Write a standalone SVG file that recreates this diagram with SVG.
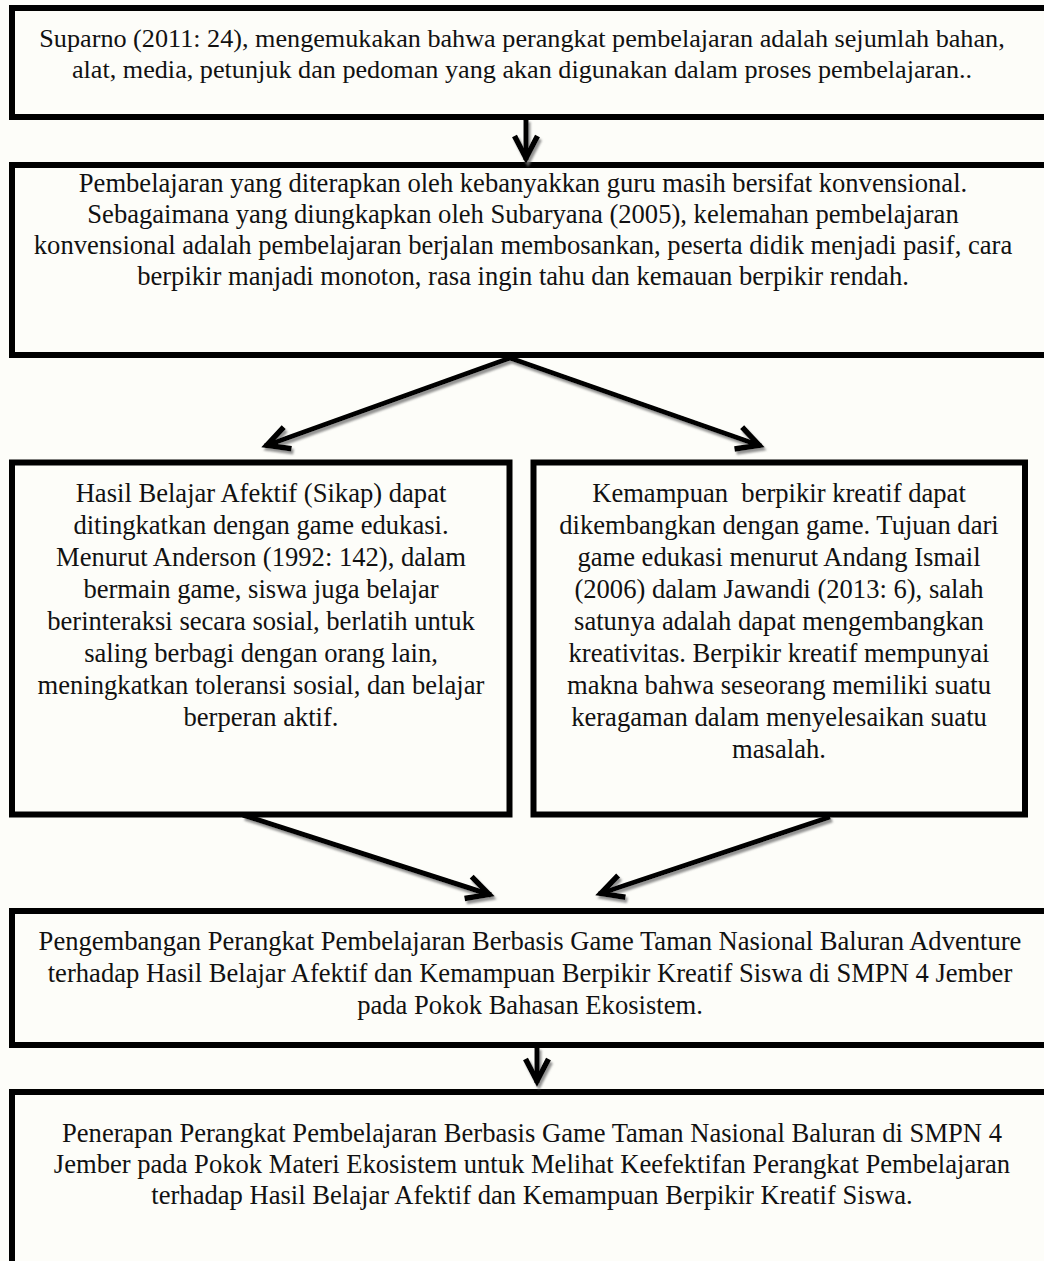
<svg xmlns="http://www.w3.org/2000/svg" width="1044" height="1261" viewBox="0 0 1044 1261">
  <style>
    .box { fill: #fdfdf9; stroke: #000; stroke-width: 6; }
    .t { font-family: "Liberation Serif", "Times New Roman", serif; font-size: 26.6px; fill: #111; text-anchor: middle; white-space: pre; }
    .t1 { font-size: 26.2px; }
    .con { stroke: #000; stroke-width: 5; fill: none; stroke-linejoin: miter; }
  </style>
  <defs>
    <marker id="ah" markerUnits="userSpaceOnUse" markerWidth="40" markerHeight="40" refX="2" refY="0" viewBox="-30 -20 40 40" orient="auto" overflow="visible">
      <path d="M -22 -11.5 L 0 0 L -22 11.5" stroke="#000" stroke-width="5.5" fill="none" stroke-linejoin="miter"/>
    </marker>
    <filter id="sh" x="-20%" y="-20%" width="140%" height="140%">
      <feDropShadow dx="2" dy="3" stdDeviation="0.8" flood-color="#777" flood-opacity="0.8"/>
    </filter>
  </defs>
  <rect x="0" y="0" width="1044" height="1261" fill="#fdfdf9"/>

  <g id="node1">
    <rect class="box" x="12" y="8" width="1040" height="109"/>
    <text class="t t1" x="522" y="47">Suparno (2011: 24), mengemukakan bahwa perangkat pembelajaran adalah sejumlah bahan,</text>
    <text class="t t1" x="522" y="78">alat, media, petunjuk dan pedoman yang akan digunakan dalam proses pembelajaran..</text>
  </g>

  <g id="node2">
    <rect class="box" x="12" y="165" width="1040" height="190"/>
    <text class="t" x="523" y="192">Pembelajaran yang diterapkan oleh kebanyakkan guru masih bersifat konvensional.</text>
    <text class="t" x="523" y="223">Sebagaimana yang diungkapkan oleh Subaryana (2005), kelemahan pembelajaran</text>
    <text class="t" x="523" y="254">konvensional adalah pembelajaran berjalan membosankan, peserta didik menjadi pasif, cara</text>
    <text class="t" x="523" y="285">berpikir manjadi monoton, rasa ingin tahu dan kemauan berpikir rendah.</text>
  </g>

  <g id="node3">
    <rect class="box" x="12" y="462.5" width="497.5" height="352"/>
    <text class="t" x="261" y="502">Hasil Belajar Afektif (Sikap) dapat</text>
    <text class="t" x="261" y="534">ditingkatkan dengan game edukasi.</text>
    <text class="t" x="261" y="566">Menurut Anderson (1992: 142), dalam</text>
    <text class="t" x="261" y="598">bermain game, siswa juga belajar</text>
    <text class="t" x="261" y="630">berinteraksi secara sosial, berlatih untuk</text>
    <text class="t" x="261" y="662">saling berbagi dengan orang lain,</text>
    <text class="t" x="261" y="694">meningkatkan toleransi sosial, dan belajar</text>
    <text class="t" x="261" y="726">berperan aktif.</text>
  </g>

  <g id="node4">
    <rect class="box" x="533.5" y="462.5" width="491.5" height="352"/>
    <text class="t" x="779" y="502">Kemampuan  berpikir kreatif dapat</text>
    <text class="t" x="779" y="534">dikembangkan dengan game. Tujuan dari</text>
    <text class="t" x="779" y="566">game edukasi menurut Andang Ismail</text>
    <text class="t" x="779" y="598">(2006) dalam Jawandi (2013: 6), salah</text>
    <text class="t" x="779" y="630">satunya adalah dapat mengembangkan</text>
    <text class="t" x="779" y="662">kreativitas. Berpikir kreatif mempunyai</text>
    <text class="t" x="779" y="694">makna bahwa seseorang memiliki suatu</text>
    <text class="t" x="779" y="726">keragaman dalam menyelesaikan suatu</text>
    <text class="t" x="779" y="758">masalah.</text>
  </g>

  <g id="node5">
    <rect class="box" x="12" y="911" width="1040" height="134"/>
    <text class="t" x="530" y="950">Pengembangan Perangkat Pembelajaran Berbasis Game Taman Nasional Baluran Adventure</text>
    <text class="t" x="530" y="982">terhadap Hasil Belajar Afektif dan Kemampuan Berpikir Kreatif Siswa di SMPN 4 Jember</text>
    <text class="t" x="530" y="1014">pada Pokok Bahasan Ekosistem.</text>
  </g>

  <g id="node6">
    <rect class="box" x="12" y="1092" width="1040" height="200"/>
    <text class="t" x="532" y="1142">Penerapan Perangkat Pembelajaran Berbasis Game Taman Nasional Baluran di SMPN 4</text>
    <text class="t" x="532" y="1173">Jember pada Pokok Materi Ekosistem untuk Melihat Keefektifan Perangkat Pembelajaran</text>
    <text class="t" x="532" y="1204">terhadap Hasil Belajar Afektif dan Kemampuan Berpikir Kreatif Siswa.</text>
  </g>

  <g id="connectors" filter="url(#sh)">
    <line class="con" x1="526" y1="119" x2="526" y2="160" marker-end="url(#ah)"/>
    <line class="con" x1="510" y1="358" x2="265" y2="446" marker-end="url(#ah)"/>
    <line class="con" x1="510" y1="358" x2="761" y2="446" marker-end="url(#ah)"/>
    <line class="con" x1="243" y1="815" x2="491" y2="895" marker-end="url(#ah)"/>
    <line class="con" x1="830" y1="817" x2="599" y2="894" marker-end="url(#ah)"/>
    <line class="con" x1="537" y1="1047" x2="537" y2="1083" marker-end="url(#ah)"/>
  </g>
</svg>
